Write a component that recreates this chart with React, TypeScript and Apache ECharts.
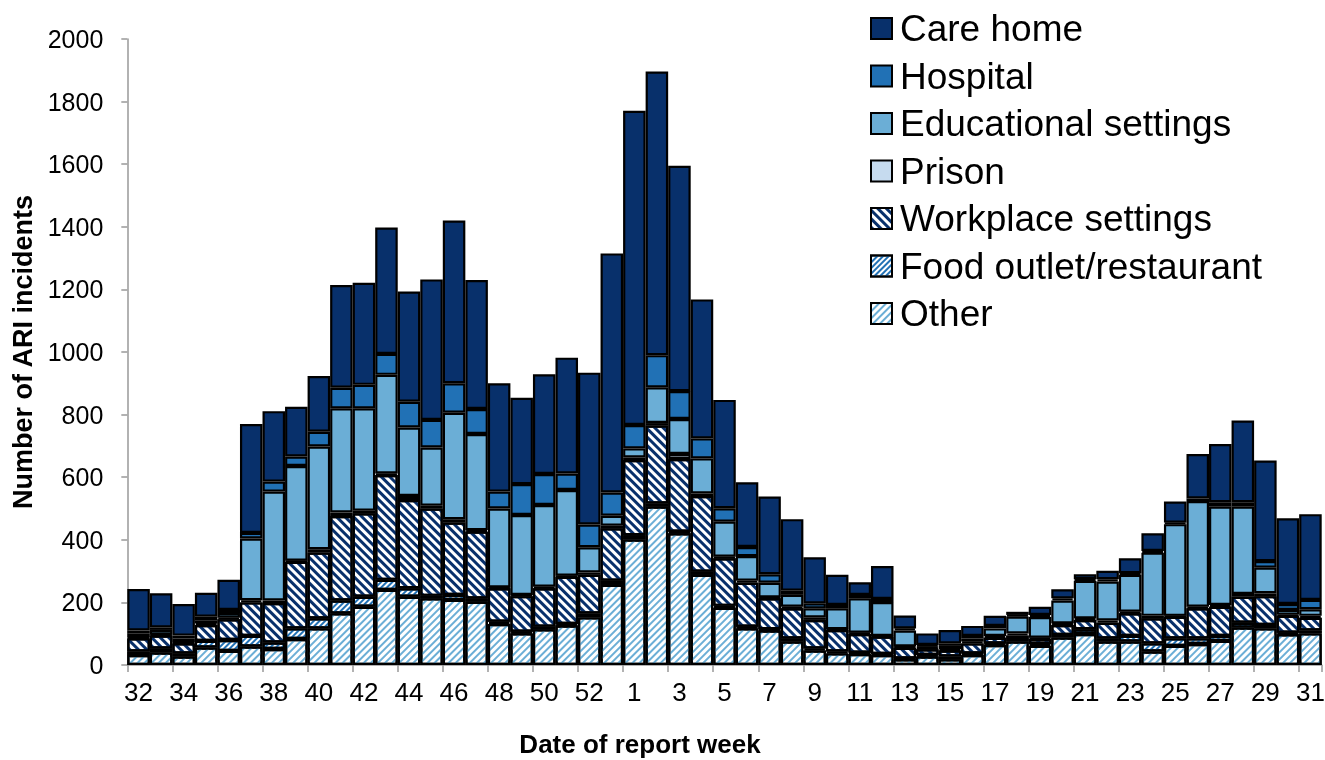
import React, { useEffect, useRef } from "react";
import * as echarts from "echarts";

const weeks = [
  "32","33","34","35","36","37","38","39","40","41","42","43","44","45","46","47","48","49","50","51","52","53",
  "1","2","3","4","5","6","7","8","9","10","11","12","13","14","15","16","17","18","19","20","21","22","23","24","25","26","27","28","29","30","31",
];

const other = [32,40,27,56,45,59,51,83,117,165,186,240,218,213,208,202,131,101,114,126,152,256,401,506,421,288,183,117,110,75,46,37,35,32,18,27,18,32,64,75,61,88,99,75,75,43,61,67,77,120,117,98,101];
const food = [11,13,10,21,35,34,21,34,32,41,32,32,27,8,16,11,7,5,8,5,13,13,14,10,5,10,6,5,4,10,7,6,4,3,3,5,9,5,5,8,6,8,15,10,18,26,24,18,16,15,11,5,9];
const workplace = [42,41,32,51,66,107,126,213,210,270,267,335,282,279,231,213,107,114,123,151,123,168,240,249,232,242,152,141,99,96,91,69,60,56,34,18,19,32,18,11,16,32,30,50,72,80,69,96,93,83,92,54,41];
const prison = [3,3,3,5,5,7,8,3,11,11,8,5,13,9,11,5,3,4,5,3,8,8,8,8,16,8,5,6,3,5,8,2,4,2,4,4,5,6,6,7,4,5,5,7,5,8,3,5,6,9,9,4,6];
const educational = [12,15,13,10,15,197,348,303,328,333,327,315,219,186,340,307,252,255,261,274,80,32,29,114,112,112,112,79,47,38,29,67,110,108,51,5,10,10,24,54,66,73,120,125,118,202,293,338,314,279,82,15,21];
const hospital = [10,8,9,11,10,18,32,30,47,66,75,67,82,88,94,80,54,99,99,53,73,74,75,103,89,64,43,29,27,13,16,11,11,10,7,5,8,8,8,5,7,7,5,7,5,5,5,8,14,14,21,19,30];
const careHome = [133,109,101,77,96,348,225,159,178,328,326,404,352,449,520,412,346,276,319,370,485,764,1004,906,720,444,346,207,248,229,147,96,40,105,41,37,43,32,32,10,26,29,16,27,48,57,67,142,186,261,321,274,274];

const yTicks = { min: 0, max: 2000, interval: 200 };

const C_NAVY = "#08306b";
const C_MID = "#2171b5";
const C_LIGHT = "#6baed6";
const C_PALE = "#c6dbef";
const FONT = "'Liberation Sans', Arial, sans-serif";

export default function App() {
  const ref = useRef<HTMLDivElement>(null);
  useEffect(() => {
    if (!ref.current) return;
    const chart = echarts.init(ref.current, undefined, { renderer: "svg" });
    const border = { borderColor: "#000", borderWidth: 2.2 };
    const mk = (name: string, data: number[], color: string, decal?: any) => ({
      name,
      type: "bar",
      stack: "total",
      barCategoryGap: "0%",
      data,
      itemStyle: { color, ...border, ...(decal ? { decal } : {}) },
      emphasis: { disabled: true },
    });
    const stripe = (color: string, rot: number, a: number, b: number) => ({
      symbol: "rect",
      symbolSize: 1,
      dashArrayX: [1, 0],
      dashArrayY: [a, b],
      rotation: rot,
      color,
    });
    const option: any = {
      animation: false,
      grid: { left: 127.3, right: 3.3, top: 39, bottom: 95, containLabel: false, outerBoundsMode: "none" },
      xAxis: {
        type: "category",
        data: weeks,
        axisLine: { show: true, lineStyle: { color: "#999", width: 1.5 } },
        axisTick: { show: true, interval: 1, length: 7, lineStyle: { color: "#999", width: 1.5 } },
        axisLabel: {
          interval: 1,
          fontSize: 26,
          fontFamily: FONT,
          color: "#000",
          margin: 14,
        },
        splitLine: { show: false },
      },
      yAxis: {
        type: "value",
        min: yTicks.min,
        max: yTicks.max,
        interval: yTicks.interval,
        axisLine: { show: true, lineStyle: { color: "#999", width: 1.5 } },
        axisTick: { show: true, length: 6, lineStyle: { color: "#999", width: 1.5 } },
        axisLabel: {
          fontSize: 25,
          fontFamily: FONT,
          color: "#000",
          margin: 24,
          formatter: (v: number) => String(v),
        },
        splitLine: { show: false },
      },
      legend: {
        orient: "vertical",
        left: 870,
        top: 10,
        padding: 0,
        itemWidth: 21,
        itemHeight: 21,
        itemGap: 10.5,
        icon: "rect",
        selectedMode: false,
        data: ["Care home", "Hospital", "Educational settings", "Prison", "Workplace settings", "Food outlet/restaurant", "Other"],
        textStyle: { fontSize: 37, lineHeight: 37, fontFamily: FONT, color: "#000", padding: [0, 0, 0, 3] },
      },
      graphic: [
        {
          type: "text",
          x: 23,
          y: 352,
          rotation: Math.PI / 2,
          style: {
            text: "Number of ARI incidents",
            fontSize: 27,
            fontWeight: "bold",
            fontFamily: FONT,
            fill: "#000",
            textAlign: "center",
            textVerticalAlign: "middle",
            align: "center",
            verticalAlign: "middle",
          },
        },
        {
          type: "text",
          x: 640,
          y: 744,
          style: {
            text: "Date of report week",
            fontSize: 26,
            fontWeight: "bold",
            fontFamily: FONT,
            fill: "#000",
            textAlign: "center",
            textVerticalAlign: "middle",
            align: "center",
            verticalAlign: "middle",
          },
        },
      ],
      series: [
        mk("Other", other, "#ffffff", stripe(C_LIGHT, -Math.PI / 4, 1.6, 2.2)),
        mk("Food outlet/restaurant", food, "#ffffff", stripe(C_MID, -Math.PI / 4, 2, 2)),
        mk("Workplace settings", workplace, "#ffffff", stripe(C_NAVY, Math.PI / 4, 2.2, 2.2)),
        mk("Prison", prison, C_PALE),
        mk("Educational settings", educational, C_LIGHT),
        mk("Hospital", hospital, C_MID),
        mk("Care home", careHome, C_NAVY),
      ],
    };
    chart.setOption(option);
    return () => chart.dispose();
  }, []);
  return <div ref={ref} style={{ position: "fixed", left: 0, top: 0, width: 1325, height: 760 }} />;
}
